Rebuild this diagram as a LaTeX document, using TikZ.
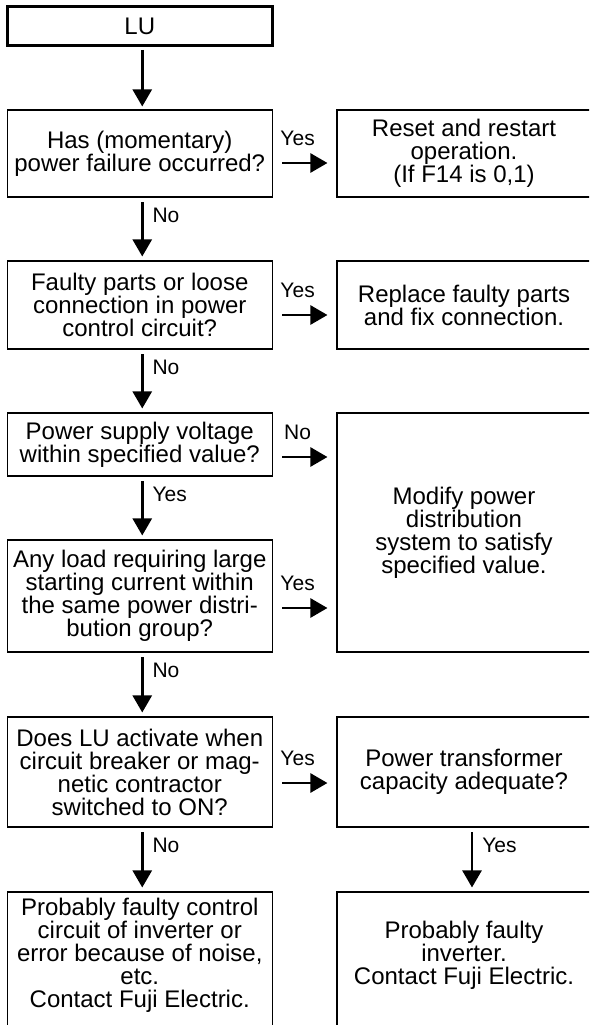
\documentclass[tikz,border=0pt]{standalone}
\usepackage{fontspec}
\setmainfont{Liberation Sans}
\usetikzlibrary{arrows.meta,calc}
\newcommand{\bodyfont}{\fontsize{24}{23}\selectfont}
\newcommand{\lblfont}{\fontsize{21}{22}\selectfont}
\begin{document}
\begin{tikzpicture}[x=1pt,y=-1pt,
  lbox/.style={draw,line width=1.1pt,inner sep=0pt,minimum width=265pt,align=center,font=\bodyfont},
  rbox/.style={draw,line width=1.1pt,inner sep=0pt,minimum width=254pt,align=center,font=\bodyfont},
  txt/.style={inner sep=0pt,align=center,font=\bodyfont},
  arr/.style={line width=2.6pt,-{Triangle[length=17pt,width=19pt]},shorten <=4.5pt,shorten >=4pt},
  harr/.style={line width=2.6pt,-{Triangle[length=17pt,width=19pt]},shorten <=9.5pt,shorten >=9pt},
  vlbl/.style={inner sep=0pt,font=\lblfont,pos=0.28,anchor=west,xshift=9pt},
  hlbl/.style={inner sep=0pt,font=\lblfont,pos=0.39,yshift=25pt}
]
\useasboundingbox (0,0) rectangle (589,1025);
\clip (0,0) rectangle (589,1025);

\node[draw,line width=3.2pt,minimum width=264.8pt,minimum height=38.8pt,inner sep=0pt,font=\bodyfont] (LU) at (139.75,26) {LU};
\node[lbox,minimum height=87pt] (Q1) at (139.75,153.5) {Has (momentary)\\power failure occurred?};
\node[rbox,minimum height=87pt] (R1) at (464,153.5) {Reset and restart\\operation.\\(If F14 is 0,1)};
\node[lbox,minimum height=88pt] (Q2) at (139.75,305) {Faulty parts or loose\\connection in power\\control circuit?};
\node[rbox,minimum height=88pt] (R2) at (464,305) {Replace faulty parts\\and fix connection.};
\node[lbox,minimum height=63pt] (Q3) at (139.75,444.5) {Power supply voltage\\within specified value?};
\node[rbox,minimum height=239pt] (M) at (464,532.5) {Modify power\\distribution\\system to satisfy\\specified value.};
\node[lbox,minimum height=112pt] (Q4) at (139.75,596) {Any load requiring large\\starting current within\\the same power distri-\\bution group?};
\node[lbox,minimum height=110pt] (Q5) at (139.75,772) {Does LU activate when\\circuit breaker or mag-\\netic contractor\\switched to ON?};
\node[rbox,minimum height=110pt] (R5) at (464,772) {Power transformer\\capacity adequate?};
\node[lbox,minimum height=138pt] (B1) at (139.75,961) {};
\node[txt] (B1t) at (139.75,955) {Probably faulty control\\circuit of inverter or\\error because of noise,\\etc.\\Contact Fuji Electric.};
\node[rbox,minimum height=138pt] (B2) at (464,961) {};
\node[txt] (B2t) at (464,955) {Probably faulty\\inverter.\\Contact Fuji Electric.};

% vertical arrows
\draw[arr,shorten <=3pt,shorten >=3pt] ([xshift=2.5pt]LU.south) -- ([xshift=2.5pt]Q1.north);
\draw[arr] ([xshift=2.5pt]Q1.south) -- node[vlbl]{No} ([xshift=2.5pt]Q2.north);
\draw[arr] ([xshift=2.5pt]Q2.south) -- node[vlbl]{No} ([xshift=2.5pt]Q3.north);
\draw[arr] ([xshift=2.5pt]Q3.south) -- node[vlbl]{Yes} ([xshift=2.5pt]Q4.north);
\draw[arr] ([xshift=2.5pt]Q4.south) -- node[vlbl]{No} ([xshift=2.5pt]Q5.north);
\draw[arr] ([xshift=2.5pt]Q5.south) -- node[vlbl]{No} ([xshift=2.5pt]B1.north);
\draw[arr] ([xshift=8pt]R5.south) -- node[vlbl]{Yes} ([xshift=8pt]B2.north);

% horizontal arrows
\draw[harr] ([yshift=-9.5pt]Q1.east) -- node[hlbl]{Yes} ([yshift=-9.5pt]R1.west);
\draw[harr] ([yshift=-10pt]Q2.east) -- node[hlbl]{Yes} ([yshift=-10pt]R2.west);
\coordinate (s3) at ([yshift=-12.5pt]Q3.east);
\draw[harr] (s3) -- node[hlbl]{No} (s3 -| M.west);
\coordinate (s4) at ([yshift=-12pt]Q4.east);
\draw[harr] (s4) -- node[hlbl]{Yes} (s4 -| M.west);
\draw[harr] ([yshift=-11pt]Q5.east) -- node[hlbl]{Yes} ([yshift=-11pt]R5.west);
\end{tikzpicture}
\end{document}
